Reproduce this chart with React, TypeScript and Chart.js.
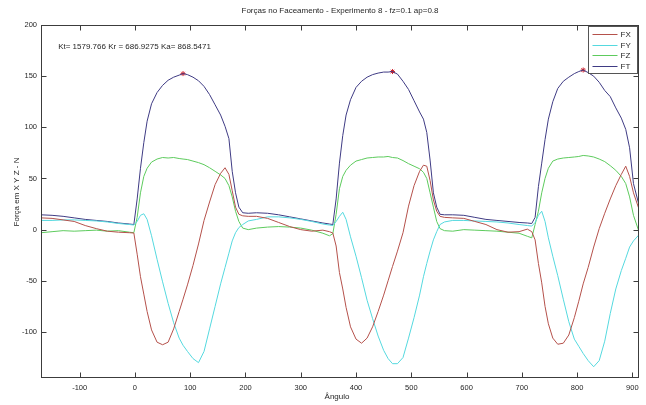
import { useEffect, useRef } from "react";
import { Chart, registerables } from "chart.js";

Chart.register(...registerables);

// ---------- data ----------
const angles = [
  -170, -150, -130, -110, -90, -70, -50, -30, -10, -2,
  4, 10, 16, 22, 30, 40, 50, 60, 70, 80, 87, 95, 105, 115, 125, 135, 145, 155, 163, 170, 176, 182, 188, 195,
  205, 220, 240, 260, 280, 300, 320, 340, 352, 358,
  364, 370, 376, 382, 390, 400, 410, 420, 430, 440, 450, 458, 466, 475, 485, 495, 505, 515, 522, 528, 534, 540, 546, 552,
  560, 575, 595, 615, 635, 655, 675, 695, 710, 718,
  724, 730, 736, 742, 748, 756, 765, 775, 785, 795, 803, 811, 820, 830, 840, 850, 860, 870, 880, 888, 895, 902, 912,
];

const FX = [
  11.5, 11, 9.5, 8, 4, 1, -1.5, -2.5, -3, -3.3,
  -24, -46, -63, -80, -98, -110, -112.5, -110, -97, -80, -68, -54, -35, -14, 9, 27, 44, 55, 60.5, 54, 38, 22, 15, 13.5,
  13, 13, 11, 7, 3, 0, -1.5, -0.5, -2, -3.3,
  -16, -42, -58, -76, -95, -107, -111, -106, -95, -80, -64, -50, -36, -21, -3, 23, 43, 57, 63, 62, 48, 29, 18, 13,
  12, 11.5, 11, 8, 5, 0, -2.5, -2, 0.5, -2,
  -10, -33, -52, -75, -92, -106, -112, -111, -103, -86, -70, -53, -37, -17, 1, 16, 30, 43, 54, 62, 52, 36, 20,
];

const FY = [
  9, 9, 9.5, 9.5, 9, 8.5, 7.5, 6, 5, 4.5,
  8, 14, 15.5, 10, -6, -29, -51, -72, -91, -106, -113, -119, -126, -130, -119, -97, -75, -53, -37, -23, -11, -3, 2, 5,
  8.5, 10, 12.5, 12.5, 11.5, 10, 8, 5.5, 4.5, 4,
  8, 13, 17, 10, -7, -26, -47, -69, -87, -104, -118, -126, -131, -131, -125, -106, -86, -64, -46, -33, -21, -10, -2, 5,
  7.5, 9, 9, 8.5, 8, 7.5, 6.5, 5, 4, 3.5,
  7, 14, 18, 8, -8, -26, -45, -68, -90, -107, -114, -121, -128, -134, -128, -109, -82, -58, -40, -28, -17, -11, -5,
];

const FZ = [
  -3, -2, -1, -1.5, -1, -0.5, -1.5, -1, -2.5, -3,
  12, 36, 52, 60, 66, 69, 70.5, 70, 70.5, 69.5, 69, 68.5, 67, 65.5, 63.5, 60.5, 57, 53.5, 50, 43, 32, 18, 8, 1.5,
  0, 1.5, 2.5, 3, 2.5, 1.5, -0.5, -3.5, -6, -4,
  15, 40, 52, 58, 63, 67, 68.5, 70, 70.5, 71, 71, 71.5, 70.5, 70, 67.5, 64.5, 62, 59.5, 56, 50, 36, 22, 8, 1,
  -1, -1.5, 0, -0.5, -1, -1.5, -2.5, -3.5, -6.5, -8,
  5, 18, 36, 50, 60, 67, 69, 70, 70.5, 71, 71.5, 72.5, 72, 71, 69, 66.5, 62.5, 58, 52, 45, 32, 14, -2,
];

const FT = [
  14.5, 14, 13, 11.5, 10, 9, 8, 6.5, 5.5, 5,
  30, 60, 85, 106, 123, 134, 141, 146, 149, 151, 152.5, 151.5, 149, 145.5, 140, 132, 122, 112, 101, 89, 57, 36, 22, 16.5,
  16, 16.5, 16, 14.5, 12.5, 10.5, 8.5, 6.5, 5.5, 5,
  30, 65, 92, 112, 127, 139, 145, 149, 151.5, 153, 154, 154, 154.5, 152, 145, 137, 126, 115, 108, 95, 68, 36, 22, 15,
  14.5, 14.5, 14, 12, 10, 9, 8, 7, 6.5, 6,
  12, 42, 65, 88, 108, 125, 138, 145, 149, 152.5, 154.5, 156, 153.5, 150, 144, 136, 130, 119, 109, 98, 80, 45, 24,
];

const peakAngles = [87, 466, 811];
const peakForces = [152.5, 154.5, 156];

const seriesNames = ["FX", "FY", "FZ", "FT"];
const seriesColors = ["#b5514b", "#55d9df", "#5dcb5d", "#3f3b84"];
const seriesValues = [FX, FY, FZ, FT];

const chartTitle = "Forças no Faceamento - Experimento 8 - fz=0.1 ap=0.8";
const annotationText = "Kt= 1579.766 Kr = 686.9275 Ka= 868.5471";
const annotationAt = [-139, 178.5];
const xLabel = "Ângulo";
const yLabel = "Força em X Y Z - N";

const xMin = -170;
const xMax = 912;
const yMin = -145;
const yMax = 200;
const xStep = 100;
const yStep = 50;

const FONT = '"Liberation Sans", Arial, sans-serif';
const INK = "#262626";

const decorPlugin = {
  id: "matlabDecor",
  afterDraw(chart: any) {
    const ctx = chart.ctx as CanvasRenderingContext2D;
    const ca = chart.chartArea;
    const xs = chart.scales.x;
    const ys = chart.scales.y;
    ctx.save();
    // box
    ctx.strokeStyle = "#3c3c3c";
    ctx.lineWidth = 1;
    const L = Math.round(ca.left) + 0.5;
    const R = Math.round(ca.right) - 0.5;
    const T = Math.round(ca.top) + 0.5;
    const B = Math.round(ca.bottom) - 0.5;
    ctx.strokeRect(L, T, R - L, B - T);
    // inward ticks on all four sides
    const tl = 5;
    ctx.beginPath();
    xs.ticks.forEach((t: any) => {
      const p = Math.round(xs.getPixelForValue(t.value)) + 0.5;
      ctx.moveTo(p, B);
      ctx.lineTo(p, B - tl);
      ctx.moveTo(p, T);
      ctx.lineTo(p, T + tl);
    });
    ys.ticks.forEach((t: any) => {
      const p = Math.round(ys.getPixelForValue(t.value)) + 0.5;
      ctx.moveTo(L, p);
      ctx.lineTo(L + tl, p);
      ctx.moveTo(R, p);
      ctx.lineTo(R - tl, p);
    });
    ctx.stroke();

    ctx.fillStyle = INK;
    ctx.font = `8px ${FONT}`;
    ctx.textBaseline = "middle";
    // title
    ctx.textAlign = "center";
    ctx.fillText(chartTitle, (ca.left + ca.right) / 2, 11);
    // x label
    ctx.fillText(xLabel, (ca.left + ca.right) / 2 - 3, ca.bottom + 19);
    // y label
    ctx.save();
    ctx.translate(17, 192);
    ctx.rotate(-Math.PI / 2);
    ctx.fillText(yLabel, 0, 0);
    ctx.restore();
    // annotation
    ctx.textAlign = "left";
    ctx.fillText(
      annotationText,
      xs.getPixelForValue(annotationAt[0]),
      ys.getPixelForValue(annotationAt[1])
    );

    // legend
    const bw = 49;
    const bh = 47;
    const bx = Math.round(ca.right) - 51 + 0.5;
    const by = Math.round(ca.top) + 1 + 0.5;
    ctx.fillStyle = "#ffffff";
    ctx.fillRect(bx, by, bw, bh);
    ctx.strokeStyle = "#555555";
    ctx.strokeRect(bx, by, bw, bh);
    seriesNames.forEach((name, i) => {
      const yy = Math.round(by + 7.5 + i * 10.6) + 0.5;
      ctx.strokeStyle = seriesColors[i];
      ctx.beginPath();
      ctx.moveTo(bx + 4, yy);
      ctx.lineTo(bx + 29, yy);
      ctx.stroke();
      ctx.fillStyle = INK;
      ctx.fillText(name, bx + 32, yy);
    });
    ctx.restore();
  },
};

export default function App() {
  const canvasRef = useRef<HTMLCanvasElement | null>(null);

  useEffect(() => {
    const canvas = canvasRef.current;
    if (!canvas) return;
    Chart.defaults.font.family = FONT;

    const datasets: any[] = seriesNames.map((name, i) => ({
      label: name,
      data: angles.map((a, k) => ({ x: a, y: seriesValues[i][k] })),
      borderColor: seriesColors[i],
      backgroundColor: seriesColors[i],
      borderWidth: 1,
      pointRadius: 0,
      tension: 0,
      fill: false,
    }));
    datasets.push({
      label: "peak",
      data: peakAngles.map((a, k) => ({ x: a, y: peakForces[k] })),
      showLine: false,
      pointStyle: "star",
      pointRadius: 2.5,
      borderColor: "#d0202a",
      backgroundColor: "#d0202a",
      borderWidth: 1,
    });

    const chart = new Chart(canvas, {
      type: "line",
      data: { datasets },
      options: {
        animation: false,
        responsive: false,
        events: [],
        layout: { padding: { top: 25, right: 7, left: 0, bottom: 0 } },
        plugins: {
          legend: { display: false },
          title: { display: false },
          tooltip: { enabled: false },
        },
        scales: {
          x: {
            type: "linear",
            min: xMin,
            max: xMax,
            grid: { display: false, drawTicks: false },
            border: { display: false },
            ticks: {
              stepSize: xStep,
              includeBounds: false,
              maxTicksLimit: 30,
              padding: 5,
              color: INK,
              font: { size: 7.5, family: FONT },
              maxRotation: 0,
              autoSkip: false,
            },
            afterFit(scale: any) {
              scale.height = 27;
            },
          },
          y: {
            type: "linear",
            min: yMin,
            max: yMax,
            grid: { display: false, drawTicks: false },
            border: { display: false },
            ticks: {
              stepSize: yStep,
              includeBounds: false,
              maxTicksLimit: 30,
              padding: 4,
              color: INK,
              font: { size: 7.5, family: FONT },
              autoSkip: false,
            },
            afterFit(scale: any) {
              scale.width = 41;
            },
          },
        },
      } as any,
      plugins: [decorPlugin],
    });

    return () => {
      chart.destroy();
    };
  }, []);

  return (
    <div style={{ position: "fixed", left: 0, top: 0, width: 646, height: 405, background: "#ffffff" }}>
      <canvas ref={canvasRef} width={646} height={405} style={{ display: "block", width: 646, height: 405 }} />
    </div>
  );
}
